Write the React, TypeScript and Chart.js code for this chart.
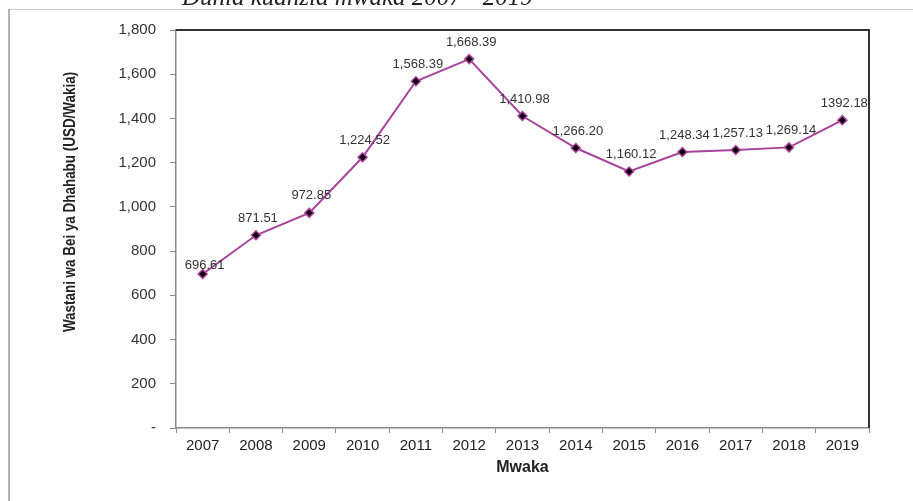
import React, { useEffect, useRef } from "react";
import { Chart, registerables } from "chart.js";

Chart.register(...registerables);

const years = ["2007", "2008", "2009", "2010", "2011", "2012", "2013", "2014", "2015", "2016", "2017", "2018", "2019"];
const goldPrice = [696.61, 871.51, 972.85, 1224.52, 1568.39, 1668.39, 1410.98, 1266.2, 1160.12, 1248.34, 1257.13, 1269.14, 1392.18];
const valueLabels = ["696.61", "871.51", "972.85", "1,224.52", "1,568.39", "1,668.39", "1,410.98", "1,266.20", "1,160.12", "1,248.34", "1,257.13", "1,269.14", "1392.18"];
const yMin = 0;
const yMax = 1800;
const yStep = 200;

const chartTitle = "Dunia kuanzia mwaka 2007 - 2019";
const yTitle = "Wastani wa Bei ya Dhahabu (USD/Wakia)";
const xTitle = "Mwaka";

const SANS = '"Liberation Sans", Arial, sans-serif';

const decorPlugin = {
  id: "decor",
  beforeDraw(chart: any) {
    const ctx = chart.ctx;
    ctx.save();
    ctx.fillStyle = "#ffffff";
    ctx.fillRect(0, 0, chart.width, chart.height);
    // outer frame
    ctx.strokeStyle = "#d0d0d0";
    ctx.lineWidth = 1;
    ctx.beginPath();
    ctx.moveTo(9, 9.5);
    ctx.lineTo(chart.width, 9.5);
    ctx.stroke();
    ctx.strokeStyle = "#9a9a9a";
    ctx.lineWidth = 1.5;
    ctx.beginPath();
    ctx.moveTo(9, 9);
    ctx.lineTo(9, chart.height);
    ctx.stroke();
    // cut-off title
    ctx.font = 'italic 25px "Liberation Serif", "DejaVu Serif", serif';
    ctx.fillStyle = "#222";
    ctx.textAlign = "left";
    ctx.textBaseline = "alphabetic";
    ctx.fillText(chartTitle, 182, 5);
    ctx.restore();
  },
  afterDraw(chart: any) {
    const ctx = chart.ctx;
    const a = chart.chartArea;
    ctx.save();
    // dark top & right border of plot area
    ctx.strokeStyle = "#333";
    ctx.lineWidth = 2;
    ctx.beginPath();
    ctx.moveTo(a.left, a.top);
    ctx.lineTo(a.right, a.top);
    ctx.lineTo(a.right, a.bottom);
    ctx.stroke();
    // y-axis title (condensed)
    ctx.translate(a.left - 106, a.top + 172);
    ctx.rotate(-Math.PI / 2);
    ctx.scale(0.79, 1);
    ctx.font = "bold 17px " + SANS;
    ctx.fillStyle = "#222";
    ctx.textAlign = "center";
    ctx.textBaseline = "middle";
    ctx.fillText(yTitle, 0, 0);
    ctx.restore();
  },
  afterDatasetsDraw(chart: any) {
    const ctx = chart.ctx;
    const meta = chart.getDatasetMeta(0);
    ctx.save();
    ctx.font = "13px " + SANS;
    ctx.fillStyle = "#333";
    ctx.textAlign = "center";
    ctx.textBaseline = "middle";
    meta.data.forEach((pt: any, i: number) => {
      const off = i === 0 ? 9 : 17;
      ctx.fillText(valueLabels[i], pt.x + 2, pt.y - off);
    });
    ctx.restore();
  },
};

export default function App() {
  const ref = useRef<HTMLCanvasElement | null>(null);
  useEffect(() => {
    if (!ref.current) return;
    const chart = new Chart(ref.current, {
      type: "line",
      data: {
        labels: years,
        datasets: [
          {
            data: goldPrice,
            borderColor: "#a8439c",
            borderWidth: 2,
            pointStyle: "rectRot",
            pointRadius: 4.5,
            pointBackgroundColor: "#000",
            pointBorderColor: "#b0409f",
            pointBorderWidth: 1.5,
            tension: 0,
            fill: false,
          },
        ],
      },
      options: {
        animation: false,
        responsive: true,
        maintainAspectRatio: false,
        layout: { padding: { top: 30, right: 44, left: 0, bottom: 0 } },
        plugins: {
          legend: { display: false },
          tooltip: { enabled: false },
          title: { display: false },
        },
        scales: {
          x: {
            offset: true,
            grid: { offset: true, drawOnChartArea: false, drawTicks: true, tickLength: 5, color: "#8a8a8a" },
            border: { color: "#8a8a8a", width: 1.5 },
            ticks: { color: "#222", font: { family: SANS, size: 15 }, padding: 4, maxRotation: 0 },
            title: {
              display: true,
              text: xTitle,
              color: "#222",
              font: { family: SANS, size: 16, weight: "bold" },
              padding: { top: 0, bottom: 24 },
            },
            afterFit(scale: any) {
              scale.height = 73;
            },
          },
          y: {
            min: yMin,
            max: yMax,
            ticks: {
              stepSize: yStep,
              color: "#333",
              font: { family: SANS, size: 15 },
              padding: 14,
              callback: (v: any) => (Number(v) === 0 ? "-" : Number(v).toLocaleString("en-US")),
            },
            grid: { drawOnChartArea: false, drawTicks: true, tickLength: 6, color: "#8a8a8a" },
            border: { color: "#8a8a8a", width: 1.5 },
            afterFit(scale: any) {
              scale.width = 176;
            },
          },
        },
      },
      plugins: [decorPlugin],
    });
    return () => chart.destroy();
  }, []);
  return (
    <div style={{ position: "absolute", left: 0, top: 0, width: 913, height: 501 }}>
      <canvas ref={ref} />
    </div>
  );
}
